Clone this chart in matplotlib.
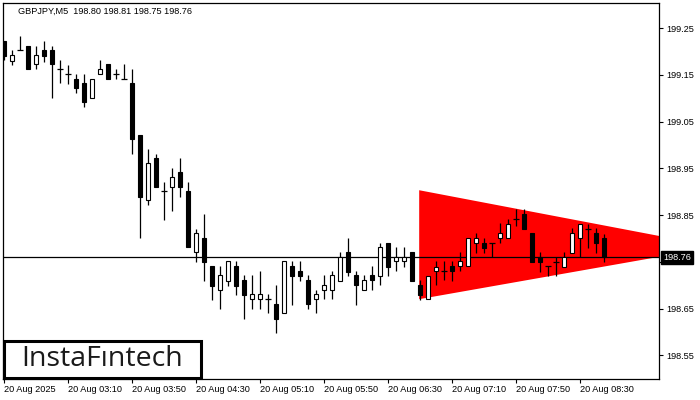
import matplotlib
matplotlib.use("Agg")
import matplotlib.pyplot as plt
import matplotlib.transforms as mtransforms
from matplotlib.patches import Rectangle, Polygon

plt.rcParams['font.family'] = ['Liberation Sans', 'DejaVu Sans']

# GBPJPY M5 candles, 20 Aug 2025 from 02:30
opens = [199.222, 199.179, 199.202, 199.211, 199.173, 199.203, 199.203, 199.162, 199.152, 199.141,
         199.132, 199.100, 199.152, 199.173, 199.152, 199.141, 199.132, 199.021, 198.882, 198.972,
         198.901, 198.910, 198.942, 198.901, 198.771, 198.801, 198.741, 198.690, 198.709, 198.741,
         198.711, 198.670, 198.670, 198.670, 198.660, 198.640, 198.741, 198.730, 198.711, 198.670,
         198.690, 198.690, 198.709, 198.771, 198.722, 198.690, 198.722, 198.720, 198.790, 198.752,
         198.752, 198.771, 198.700, 198.670, 198.730, 198.730, 198.741, 198.741, 198.741, 198.790,
         198.790, 198.790, 198.801, 198.801, 198.841, 198.852, 198.812, 198.760, 198.741, 198.750,
         198.739, 198.769, 198.801, 198.820, 198.812, 198.800]
highs = [199.222, 199.203, 199.233, 199.211, 199.211, 199.222, 199.211, 199.182, 199.171, 199.152,
         199.152, 199.141, 199.182, 199.173, 199.162, 199.173, 199.162, 199.021, 198.991, 198.980,
         198.921, 198.951, 198.972, 198.921, 198.820, 198.852, 198.741, 198.741, 198.752, 198.752,
         198.722, 198.722, 198.730, 198.681, 198.700, 198.752, 198.752, 198.752, 198.722, 198.690,
         198.722, 198.730, 198.771, 198.801, 198.730, 198.722, 198.741, 198.790, 198.790, 198.782,
         198.782, 198.771, 198.711, 198.720, 198.752, 198.752, 198.752, 198.771, 198.801, 198.812,
         198.801, 198.790, 198.833, 198.841, 198.863, 198.863, 198.812, 198.771, 198.741, 198.760,
         198.771, 198.822, 198.831, 198.831, 198.822, 198.810]
lows = [199.182, 199.171, 199.202, 199.162, 199.162, 199.177, 199.100, 199.132, 199.130, 199.111,
        199.081, 199.100, 199.152, 199.141, 199.141, 199.141, 198.980, 198.801, 198.871, 198.910,
        198.839, 198.859, 198.889, 198.782, 198.750, 198.709, 198.668, 198.649, 198.698, 198.679,
        198.628, 198.649, 198.649, 198.640, 198.598, 198.640, 198.657, 198.709, 198.649, 198.640,
        198.670, 198.670, 198.709, 198.720, 198.657, 198.690, 198.690, 198.700, 198.720, 198.730,
        198.739, 198.709, 198.668, 198.670, 198.700, 198.711, 198.709, 198.730, 198.741, 198.769,
        198.769, 198.760, 198.790, 198.801, 198.826, 198.820, 198.750, 198.728, 198.720, 198.720,
        198.739, 198.769, 198.760, 198.779, 198.769, 198.750]
closes = [199.190, 199.192, 199.202, 199.162, 199.192, 199.190, 199.173, 199.162, 199.152, 199.122,
          199.092, 199.141, 199.162, 199.141, 199.152, 199.141, 199.013, 198.889, 198.961, 198.910,
          198.901, 198.931, 198.910, 198.782, 198.812, 198.750, 198.698, 198.722, 198.752, 198.698,
          198.679, 198.681, 198.681, 198.670, 198.628, 198.752, 198.720, 198.720, 198.660, 198.681,
          198.700, 198.722, 198.760, 198.728, 198.700, 198.711, 198.711, 198.782, 198.739, 198.760,
          198.760, 198.709, 198.679, 198.720, 198.739, 198.730, 198.730, 198.752, 198.801, 198.801,
          198.779, 198.790, 198.812, 198.831, 198.841, 198.820, 198.750, 198.750, 198.741, 198.750,
          198.760, 198.812, 198.831, 198.820, 198.790, 198.760]

time_labels = ["20 Aug 2025", "20 Aug 03:10", "20 Aug 03:50", "20 Aug 04:30", "20 Aug 05:10",
               "20 Aug 05:50", "20 Aug 06:30", "20 Aug 07:10", "20 Aug 07:50", "20 Aug 08:30"]
time_label_idx = [0, 8, 16, 24, 32, 40, 48, 56, 64, 72]
price_ticks = [199.25, 199.15, 199.05, 198.95, 198.85, 198.75, 198.65, 198.55]
bid_price = 198.76

# symmetrical triangle pattern (bar index, price)
pattern_x = [51.9, 89.0, 51.9]
pattern_y = [198.903, 198.782, 198.670]

fig = plt.figure(figsize=(7, 4), dpi=100)
ax = fig.add_axes([3 / 700, 21 / 400, 656 / 700, 376 / 400])

# pattern area
ax.add_patch(Polygon(list(zip(pattern_x, pattern_y)), closed=True, facecolor='#ff0000',
                     edgecolor='none', zorder=1))

# bid line
ax.axhline(bid_price, color='black', lw=0.9, zorder=1.5)

# candles
w = 0.58
for i, (o, h, l, c) in enumerate(zip(opens, highs, lows, closes)):
    ax.vlines(i, l, h, color='black', lw=0.9, zorder=2)
    if abs(c - o) < 0.002:
        ax.hlines(o, i - w / 2 - 0.05, i + w / 2 + 0.05, color='black', lw=0.9, zorder=3)
    else:
        fc = 'white' if c > o else 'black'
        ax.add_patch(Rectangle((i - w / 2, min(o, c)), w, abs(c - o), facecolor=fc,
                               edgecolor='black', lw=0.8, zorder=3))

ax.set_xlim(-0.125, 81.875)
ax.set_ylim(198.4992, 199.3035)

ax.set_xticks(time_label_idx)
ax.set_xticklabels(time_labels, fontsize=6.6)
for lbl in ax.get_xticklabels():
    lbl.set_ha('left')
ax.tick_params(axis='x', length=3, width=0.8, pad=1)

ax.yaxis.tick_right()
ax.set_yticks(price_ticks)
ax.set_yticklabels([f"{p:.2f}" for p in price_ticks], fontsize=6.6)
ax.tick_params(axis='y', length=3, width=0.8, pad=2.5)

for sp in ax.spines.values():
    sp.set_linewidth(0.9)
    sp.set_color('black')

# header
ax.text(0.0229, 0.979, "GBPJPY,M5  198.80 198.81 198.75 198.76", transform=ax.transAxes,
        fontsize=6.6, ha='left', va='center', color='black')

# current price label
trans = mtransforms.blended_transform_factory(ax.transAxes, ax.transData)
ax.text(1.0065, bid_price, f"{bid_price:.2f}", transform=trans, fontsize=6.6, color='white',
        ha='left', va='center', clip_on=False, zorder=10,
        bbox=dict(boxstyle='square,pad=0.22', facecolor='black', edgecolor='black'))

# logo
logo = Rectangle((3.5 / 700, 22 / 400), 197 / 700, 37 / 400, transform=fig.transFigure,
                 facecolor='white', edgecolor='black', lw=2.2, zorder=20)
fig.patches.append(logo)
fig.text(102 / 700, 40.5 / 400, "InstaFıntech", fontsize=20.5,
         family=['Open Sans', 'DejaVu Sans'],
         ha='center', va='center', color='#1a1a1a', zorder=21)

fig.savefig("out.png", dpi=100)
